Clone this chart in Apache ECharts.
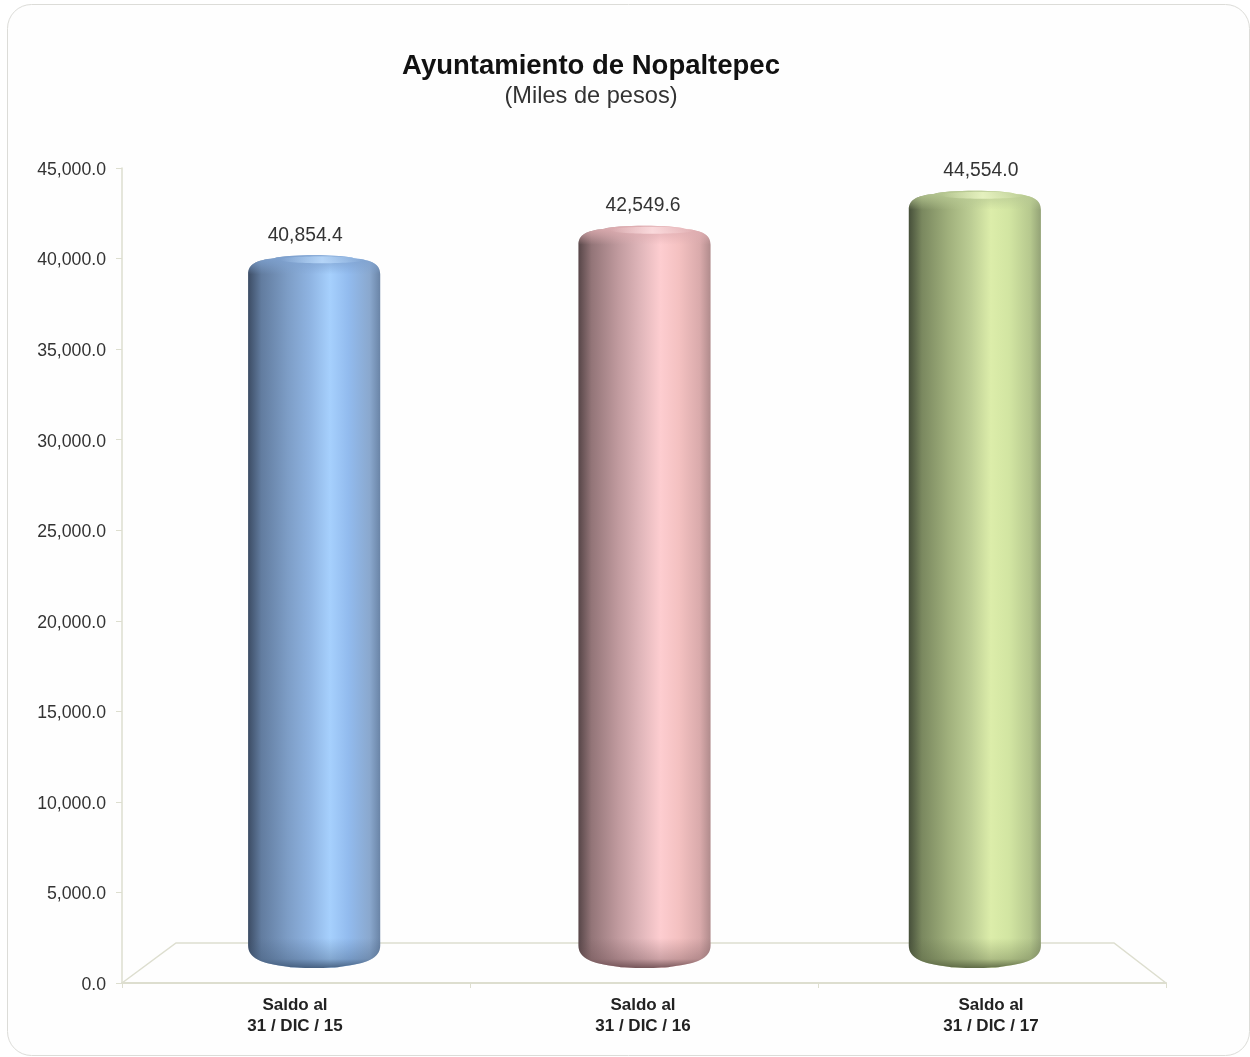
<!DOCTYPE html>
<html>
<head>
<meta charset="utf-8">
<style>html,body{margin:0;padding:0;background:#fff}#c{width:1250px;height:1057px}</style>
<script src="https://cdn.jsdelivr.net/npm/echarts@6/dist/echarts.min.js"></script>
</head>
<body>
<div id="c"></div>
<script>
const categories = ['Saldo al\n31 / DIC / 15', 'Saldo al\n31 / DIC / 16', 'Saldo al\n31 / DIC / 17'];
const saldo = [40854.4, 42549.6, 44554.0];
const barStops = [
  ['#3c4c64', '#627c9f', '#7d9dc6', '#8fb4e2', '#a6d0fd', '#92bbee', '#8aa8ce', '#6a84a6'],
  ['#574648', '#937578', '#c09a9e', '#e0b6ba', '#fdcdd0', '#f4c1c1', '#d9aaab', '#b08b8c'],
  ['#464f3a', '#7a885f', '#a0b07c', '#bccd94', '#dcedaa', '#d2e5a2', '#b6c88e', '#93a276']
];
const capColors = ['#7fa2d0', '#dfaeb2', '#b9ca94'];
const shineColors = ['#c0dfff', '#ffe2e4', '#eef9c8'];
const shadeColors = ['#3f5877', '#6b4c50', '#56623f'];

const fmt = v => v.toLocaleString('en-US', {minimumFractionDigits: 1, maximumFractionDigits: 1});
const line = '#dddecf';
const font = '"Liberation Sans", Arial, sans-serif';

function renderCylinder(params, api) {
  const i = params.dataIndex;
  const top = api.coord([api.value(0), api.value(1)]);
  const base = api.coord([api.value(0), 0]);
  const halfW = api.size([1, 0])[0] * 0.2;
  const cx = top[0], x0 = cx - halfW, x1 = cx + halfW, w = x1 - x0;
  const yT = top[1], yB = base[1];
  const topEdge = `C${x0} ${yT + 9} ${x0 + 8} ${yT + 5} ${x0 + 26} ${yT + 3} C${cx - 30} ${yT - 1} ${cx + 30} ${yT - 1} ${x1 - 26} ${yT + 3} C${x1 - 8} ${yT + 5} ${x1} ${yT + 9} ${x1} ${yT + 19}`;
  const botEdge = `C${x1} ${yB - 9} ${x1 - 14} ${yB - 4} ${x1 - 38} ${yB - 1} C${cx + 20} ${yB + 1} ${cx - 20} ${yB + 1} ${x0 + 38} ${yB - 1} C${x0 + 14} ${yB - 4} ${x0} ${yB - 9} ${x0} ${yB - 22}`;
  const body = `M${x0} ${yT + 19} ${topEdge} L${x1} ${yB - 22} ${botEdge} Z`;
  const offs = [0, 0.1, 0.3, 0.47, 0.62, 0.76, 0.92, 1];
  const grad = new echarts.graphic.LinearGradient(0, 0, 1, 0,
    barStops[i].map((c, k) => ({offset: offs[k], color: c})));
  const capH = 19, botH = 30;
  const topCap = new echarts.graphic.LinearGradient(0, 0, 0, 1, [
    {offset: 0, color: capColors[i]},
    {offset: 0.5, color: capColors[i] + '88'},
    {offset: 1, color: capColors[i] + '00'}
  ]);
  const botCap = new echarts.graphic.LinearGradient(0, 0, 0, 1, [
    {offset: 0, color: shadeColors[i] + '00'},
    {offset: 0.7, color: shadeColors[i] + '55'},
    {offset: 1, color: shadeColors[i] + 'e8'}
  ]);
  const shine = new echarts.graphic.LinearGradient(0, 0, 1, 0, [
    {offset: 0, color: shineColors[i] + '00'},
    {offset: 0.5, color: shineColors[i] + 'cc'},
    {offset: 1, color: shineColors[i] + '00'}
  ]);
  return {
    type: 'group',
    children: [
      {type: 'path', shape: {pathData: body, layout: 'cover', x: x0, y: yT, width: w, height: yB - yT},
        style: {fill: grad}},
      {type: 'path', shape: {pathData: `M${x0} ${yT + capH} ${topEdge} Z`, layout: 'cover', x: x0, y: yT, width: w, height: capH},
        style: {fill: topCap}},
      {type: 'ellipse', shape: {cx: cx + 8, cy: yT + 4.5, rx: 42, ry: 3.5}, style: {fill: shine}},
      {type: 'path', shape: {pathData: `M${x0} ${yB - botH} L${x1} ${yB - botH} L${x1} ${yB - 22} ${botEdge} Z`,
        layout: 'cover', x: x0, y: yB - botH, width: w, height: botH}, style: {fill: botCap}},
      {type: 'text', style: {
        x: cx + (i - 1) * 7.5 - 1.5, y: yT - 20, text: fmt(api.value(1)),
        align: 'center', verticalAlign: 'middle',
        font: '19.3px ' + font, fill: '#333'
      }}
    ]
  };
}

const chart = echarts.init(document.getElementById('c'), null, {renderer: 'canvas'});
chart.setOption({
  animation: false,
  backgroundColor: '#fff',
  title: {
    text: 'Ayuntamiento de Nopaltepec',
    subtext: '(Miles de pesos)',
    left: 586, top: 46, textAlign: 'center', itemGap: 2,
    textStyle: {fontFamily: font, fontSize: 27.5, fontWeight: 'bold', color: '#111', lineHeight: 30},
    subtextStyle: {fontFamily: font, fontSize: 23.6, color: '#333', lineHeight: 26}
  },
  graphic: [
    {type: 'rect', z: -10, silent: true, shape: {x: 7.5, y: 4.5, width: 1242, height: 1051, r: 24},
      style: {fill: '#fefefe', stroke: '#dcdcd8', lineWidth: 1}},
    {type: 'polyline', z: 0, silent: true, shape: {points: [[122, 983], [176, 943], [1114, 943], [1166, 983]]},
      style: {fill: null, stroke: line, lineWidth: 1.5}}
  ],
  grid: [
    {left: 122, right: 84, top: 168, bottom: 74},
    {left: 149, right: 110, top: 183, bottom: 89}
  ],
  xAxis: [
    {type: 'category', gridIndex: 0, data: categories, boundaryGap: true,
      axisLine: {lineStyle: {color: line, width: 2}},
      axisTick: {show: true, length: 5, lineStyle: {color: line}},
      axisLabel: {margin: 12, padding: [0, 2, 0, 0], fontFamily: font, fontSize: 17, fontWeight: 'bold', color: '#222', lineHeight: 21, interval: 0},
      splitLine: {show: false}},
    {type: 'category', gridIndex: 1, data: categories, show: false}
  ],
  yAxis: [
    {type: 'value', gridIndex: 0, min: 0, max: 45000, interval: 5000,
      axisLine: {show: true, lineStyle: {color: line, width: 1.5}},
      axisTick: {show: true, length: 6, lineStyle: {color: line}},
      axisLabel: {margin: 16, fontFamily: font, fontSize: 17.7, color: '#333', formatter: v => '{v|' + fmt(v) + '}',
        rich: {v: {fontFamily: font, fontSize: 17.7, color: '#333', padding: [4, 0, 0, 0]}}},
      splitLine: {show: false}},
    {type: 'value', gridIndex: 1, min: 0, max: 45000, interval: 5000, show: false, splitLine: {show: false}}
  ],
  series: [{
    type: 'custom', xAxisIndex: 1, yAxisIndex: 1, z: 5, clip: false,
    encode: {x: 0, y: 1},
    data: saldo.map((v, i) => [i, v]),
    renderItem: renderCylinder
  }]
});
</script>
</body>
</html>
